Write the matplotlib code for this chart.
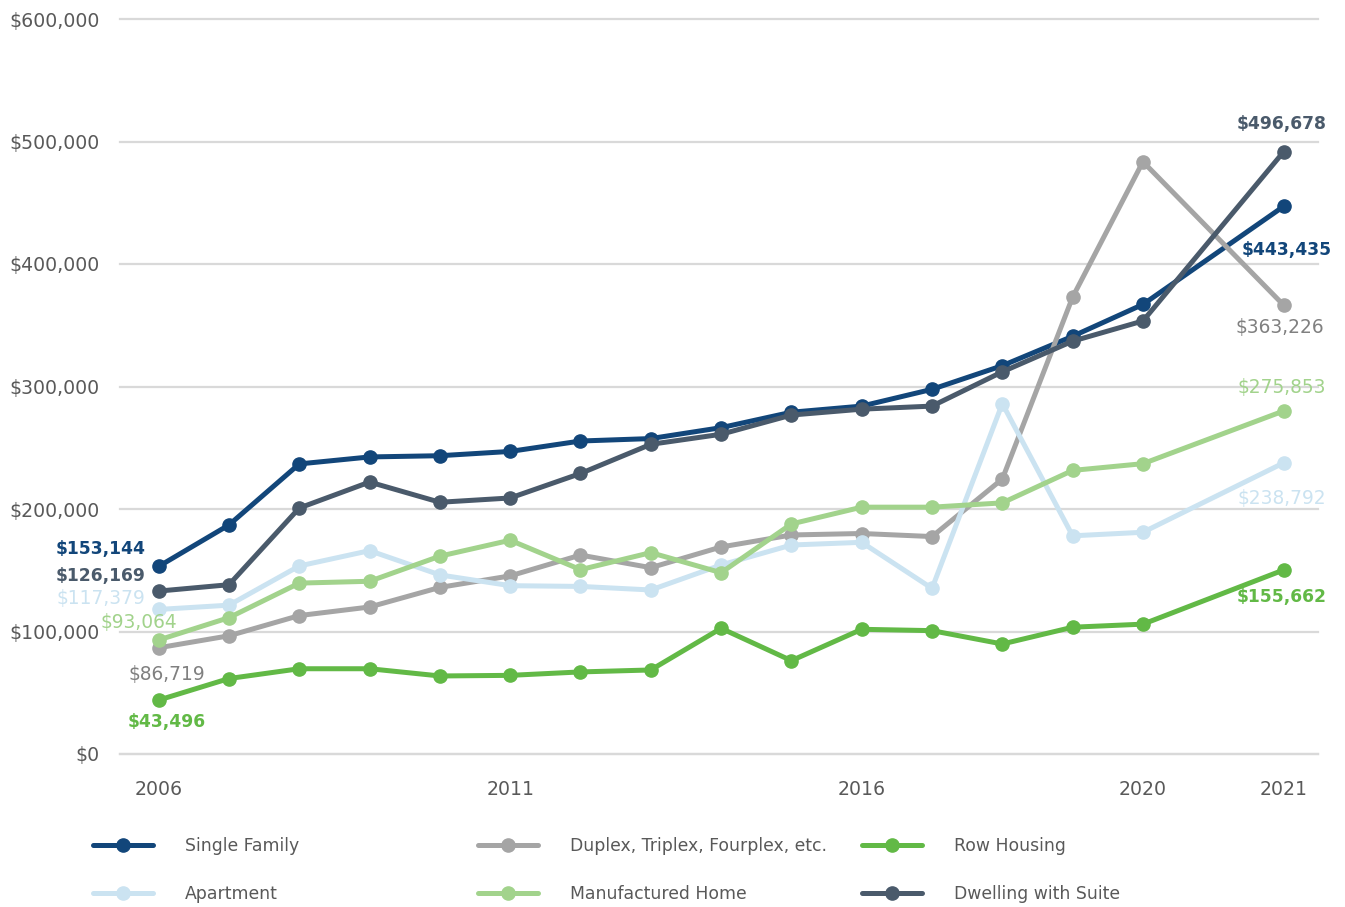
import matplotlib.pyplot as plt
from matplotlib.lines import Line2D
import numpy as np

plt.rcParams['font.family'] = 'DejaVu Sans'

# categories on the x axis (one empty slot before 2021, as in the source chart)
categories = ['2006', '2007', '2008', '2009', '2010', '2011', '2012', '2013', '2014',
              '2015', '2016', '2017', '2018', '2019', '2020', '', '2021']
shown_ticks = ['2006', '2011', '2016', '2020', '2021']

nan = np.nan
single_family = [153144, 187000, 236800, 242500, 243500, 247000, 255500, 257500, 266400,
                 279000, 284000, 297700, 317000, 341000, 367000, nan, 447000]
duplex = [86719, 96500, 113000, 120000, 136000, 145400, 162400, 152100, 169000,
          178800, 180000, 177500, 224500, 373000, 483500, nan, 366500]
row_housing = [44000, 61600, 69600, 69600, 63700, 64200, 67000, 68600, 102600,
               76200, 101800, 100700, 89800, 103500, 106000, nan, 150200]
apartment = [118000, 121500, 153500, 166000, 146200, 137400, 136800, 133900, 154300,
             170600, 172800, 135200, 286000, 178100, 181000, nan, 237600]
manufactured = [93064, 111300, 139500, 141000, 161500, 174500, 150500, 164400, 148000,
                187800, 201500, 201500, 205000, 231500, 237000, nan, 280000]
dwelling_suite = [133000, 138200, 200800, 222000, 205500, 209000, 229000, 252800, 261000,
                  276700, 281500, 284000, 312000, 337000, 353500, nan, 491500]

# values printed next to the first and last points
start_labels = [153144, 86719, 43496, 117379, 93064, 126169]
end_labels = [443435, 363226, 155662, 238792, 275853, 496678]

names = ['Single Family', 'Duplex, Triplex, Fourplex, etc.', 'Row Housing',
         'Apartment', 'Manufactured Home', 'Dwelling with Suite']
series = [single_family, duplex, row_housing, apartment, manufactured, dwelling_suite]
colors = ['#12467a', '#a5a5a5', '#62b946', '#cbe3f1', '#a2d38c', '#4a5a6b']
label_colors = ['#12467a', '#808080', '#62b946', '#cbe3f1', '#a2d38c', '#4a5a6b']
label_bold = [True, False, True, False, False, True]

# label offsets in pixels (dx, dy, ha) for start and end labels
start_off = [(-13, 17, 'right'), (8, -27, 'center'), (8, -22, 'center'),
             (-13, 11, 'right'), (18, 17, 'right'), (-13, 15, 'right')]
end_off = [(3, -44, 'center'), (-4, -22, 'center'), (-2, -27, 'center'),
           (-2, -36, 'center'), (-2, 23, 'center'), (-2, 28, 'center')]

grid_c = '#d9d9d9'
text_c = '#595959'

fig = plt.figure(figsize=(13.45, 9.07), dpi=100)
ax = fig.add_axes([120/1345, 1 - 754/907, (1318-120)/1345, (754-19)/907])

x = np.arange(len(categories))
for i, (vals, name) in enumerate(zip(series, names)):
    v = np.array(vals, dtype=float)
    m = ~np.isnan(v)
    ax.plot(x[m], v[m], color=colors[i], lw=3.6, marker='o', ms=9.5,
            solid_capstyle='round', zorder=3 + i, label=name)
    xs, ys = x[m], v[m]
    w = 'bold' if label_bold[i] else 'normal'
    fs = 12.3 if label_bold[i] else 13.4
    dx, dy, ha = start_off[i]
    ax.annotate(f'${start_labels[i]:,}', (xs[0], ys[0]), xytext=(dx, dy),
                textcoords='offset pixels', ha=ha, va='center', color=label_colors[i],
                fontsize=fs, fontweight=w, zorder=10)
    dx, dy, ha = end_off[i]
    ax.annotate(f'${end_labels[i]:,}', (xs[-1], ys[-1]), xytext=(dx, dy),
                textcoords='offset pixels', ha=ha, va='center', color=label_colors[i],
                fontsize=fs, fontweight=w, zorder=10)

ax.set_xlim(-0.55, 16.49)
ax.set_ylim(0, 600000)
ax.set_yticks(np.arange(0, 600001, 100000))
ax.set_yticklabels([f'${t:,}' for t in range(0, 600001, 100000)])
tick_pos = [categories.index(t) for t in shown_ticks]
ax.set_xticks(tick_pos)
ax.set_xticklabels(shown_ticks)

ax.grid(axis='y', color=grid_c, lw=1.6, zorder=0)
for gl in ax.get_ygridlines():
    gl.set_clip_on(False)
for s in ['top', 'right', 'left']:
    ax.spines[s].set_visible(False)
ax.spines['bottom'].set_color(grid_c)
ax.spines['bottom'].set_linewidth(1.6)
ax.tick_params(axis='both', length=0, labelsize=13.6, labelcolor=text_c)
ax.tick_params(axis='y', pad=14.5)
ax.tick_params(axis='x', pad=18.5)

# legend: three columns, two rows (row-wise order as in the source)
col_x = [93/1345, 478/1345, 862/1345]
for c in range(3):
    idx = [c, c + 3]
    handles = [Line2D([], [], color=colors[k], lw=3.6, marker='o', ms=9.5,
                      solid_capstyle='round') for k in idx]
    leg = fig.legend(handles, [names[k] for k in idx], loc='center left',
                     bbox_to_anchor=(col_x[c], 1 - 870/907), frameon=False,
                     fontsize=12.4, handlelength=3.5, handletextpad=1.85,
                     labelspacing=1.72, borderpad=0, borderaxespad=0, numpoints=1)
    for t in leg.get_texts():
        t.set_color(text_c)

fig.savefig('out.png', dpi=100)
